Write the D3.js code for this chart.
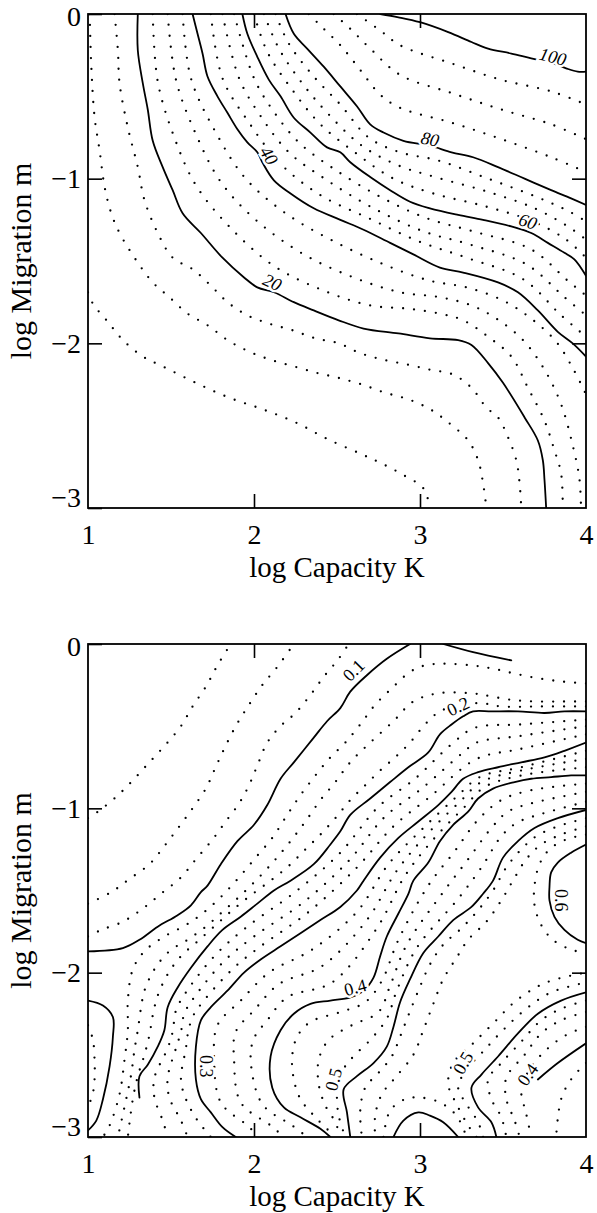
<!DOCTYPE html>
<html>
<head>
<meta charset="utf-8">
<script src="https://cdn.jsdelivr.net/npm/d3@7"></script>
<style>
  body { margin: 0; background: #fff; }
  svg { display: block; }
</style>
</head>
<body>
<svg id="chart" width="597" height="1213"></svg>
<script>
// Axis ticks shared by both panels (log10 scales)
const capacityTicks = [1, 2, 3, 4];
const migrationTicks = [0, -1, -2, -3];

// Upper panel: contour lines, each a list of [log K, log m] vertices
const topContours = [
  {level: 5, pts: [[1.00,-1.69],[1.03,-1.76],[1.12,-1.87],[1.21,-1.98],[1.33,-2.08],[1.45,-2.14],[1.65,-2.24],[1.85,-2.33],[2.05,-2.40],[2.25,-2.48],[2.44,-2.58],[2.64,-2.67],[2.77,-2.73],[2.90,-2.80],[3.02,-2.88],[3.06,-3.00]]},
  {level: 10, pts: [[1.01,0],[1.02,-0.32],[1.04,-0.63],[1.07,-0.83],[1.10,-1.05],[1.14,-1.21],[1.19,-1.33],[1.30,-1.51],[1.39,-1.63],[1.49,-1.72],[1.60,-1.82],[1.72,-1.89],[1.84,-1.98],[1.97,-2.05],[2.10,-2.10],[2.24,-2.14],[2.38,-2.18],[2.51,-2.21],[2.65,-2.25],[2.79,-2.30],[2.93,-2.34],[3.06,-2.40],[3.17,-2.48],[3.29,-2.59],[3.35,-2.71],[3.38,-2.85],[3.40,-3.00]]},
  {level: 15, pts: [[1.16,0],[1.18,-0.22],[1.19,-0.42],[1.24,-0.69],[1.30,-0.93],[1.34,-1.13],[1.42,-1.33],[1.51,-1.48],[1.63,-1.55],[1.74,-1.65],[1.84,-1.75],[1.96,-1.83],[2.09,-1.88],[2.23,-1.92],[2.37,-1.97],[2.51,-2.00],[2.64,-2.06],[2.78,-2.10],[2.93,-2.13],[3.06,-2.16],[3.20,-2.19],[3.31,-2.27],[3.40,-2.39],[3.47,-2.45],[3.53,-2.57],[3.58,-2.71],[3.60,-2.85],[3.61,-3.00]]},
  {level: 20, pts: [[1.30,0],[1.30,-0.22],[1.33,-0.42],[1.36,-0.58],[1.39,-0.77],[1.45,-0.93],[1.51,-1.07],[1.57,-1.21],[1.68,-1.33],[1.81,-1.48],[1.94,-1.60],[2.02,-1.66],[2.12,-1.69],[2.24,-1.75],[2.36,-1.80],[2.51,-1.86],[2.66,-1.91],[2.87,-1.94],[3.06,-1.97],[3.23,-1.98],[3.31,-2.01],[3.41,-2.12],[3.50,-2.24],[3.63,-2.45],[3.71,-2.59],[3.74,-2.71],[3.75,-2.83],[3.76,-3.00]]},
  {level: 25, pts: [[1.39,0],[1.42,-0.41],[1.52,-0.75],[1.65,-1.04],[1.85,-1.29],[2.12,-1.53],[2.42,-1.68],[2.70,-1.77],[2.93,-1.79],[3.12,-1.82],[3.26,-1.86],[3.41,-1.96],[3.55,-2.08],[3.65,-2.27],[3.75,-2.47],[3.81,-2.65],[3.85,-2.79],[3.86,-3.00]]},
  {level: 30, pts: [[1.48,0],[1.53,-0.40],[1.65,-0.73],[1.80,-1.02],[2.01,-1.25],[2.30,-1.46],[2.60,-1.60],[2.88,-1.69],[3.12,-1.72],[3.31,-1.77],[3.46,-1.85],[3.62,-1.98],[3.75,-2.16],[3.85,-2.37],[3.92,-2.62],[3.96,-2.82],[3.97,-3.00]]},
  {level: 35, pts: [[1.57,0],[1.62,-0.39],[1.77,-0.72],[1.95,-1.00],[2.19,-1.21],[2.48,-1.38],[2.78,-1.52],[3.06,-1.62],[3.28,-1.66],[3.50,-1.74],[3.67,-1.85],[3.82,-1.99],[3.92,-2.15],[4.00,-2.31]]},
  {level: 40, pts: [[1.63,0],[1.66,-0.12],[1.69,-0.24],[1.72,-0.38],[1.78,-0.50],[1.84,-0.60],[1.90,-0.70],[1.96,-0.78],[2.02,-0.84],[2.05,-0.90],[2.12,-1.01],[2.22,-1.09],[2.36,-1.18],[2.52,-1.25],[2.66,-1.31],[2.82,-1.39],[2.96,-1.46],[3.12,-1.54],[3.26,-1.57],[3.47,-1.63],[3.59,-1.69],[3.71,-1.80],[3.83,-1.93],[3.92,-2.00],[4.00,-2.08]]},
  {level: 45, pts: [[1.74,0],[1.81,-0.39],[1.97,-0.66],[2.16,-0.91],[2.40,-1.10],[2.69,-1.24],[2.99,-1.38],[3.28,-1.48],[3.62,-1.61],[3.85,-1.83],[4.00,-1.96]]},
  {level: 50, pts: [[1.81,0],[1.91,-0.39],[2.04,-0.62],[2.21,-0.84],[2.44,-1.01],[2.72,-1.18],[3.02,-1.32],[3.30,-1.40],[3.64,-1.52],[3.87,-1.72],[4.00,-1.83]]},
  {level: 55, pts: [[1.88,0],[2.00,-0.39],[2.11,-0.58],[2.27,-0.78],[2.48,-0.94],[2.76,-1.11],[3.04,-1.24],[3.32,-1.32],[3.67,-1.43],[3.89,-1.62],[4.00,-1.71]]},
  {level: 60, pts: [[1.93,0],[1.96,-0.12],[2.02,-0.26],[2.09,-0.40],[2.16,-0.50],[2.24,-0.63],[2.34,-0.72],[2.44,-0.81],[2.52,-0.84],[2.58,-0.90],[2.70,-0.99],[2.82,-1.07],[2.94,-1.14],[3.06,-1.18],[3.23,-1.22],[3.38,-1.25],[3.55,-1.29],[3.67,-1.33],[3.77,-1.39],[3.87,-1.45],[3.93,-1.49],[4.00,-1.59]]},
  {level: 65, pts: [[2.00,0],[2.08,-0.23],[2.23,-0.46],[2.40,-0.67],[2.62,-0.85],[2.84,-1.00],[3.08,-1.09],[3.40,-1.17],[3.68,-1.26],[3.88,-1.37],[4.00,-1.48]]},
  {level: 70, pts: [[2.06,0],[2.15,-0.21],[2.29,-0.42],[2.45,-0.61],[2.65,-0.80],[2.87,-0.92],[3.09,-0.99],[3.41,-1.08],[3.69,-1.18],[3.89,-1.29],[4.00,-1.37]]},
  {level: 75, pts: [[2.13,0],[2.21,-0.18],[2.36,-0.38],[2.52,-0.55],[2.69,-0.75],[2.88,-0.84],[3.11,-0.89],[3.41,-1.00],[3.70,-1.11],[3.90,-1.20],[4.00,-1.26]]},
  {level: 80, pts: [[2.19,0],[2.24,-0.12],[2.32,-0.21],[2.42,-0.32],[2.52,-0.44],[2.62,-0.56],[2.70,-0.67],[2.78,-0.72],[2.90,-0.77],[3.06,-0.80],[3.19,-0.84],[3.32,-0.87],[3.47,-0.93],[3.63,-1.00],[3.79,-1.07],[3.91,-1.12],[4.00,-1.16]]},
  {level: 85, pts: [[2.33,0],[2.41,-0.08],[2.52,-0.19],[2.64,-0.34],[2.76,-0.49],[2.88,-0.57],[3.19,-0.66],[3.49,-0.76],[3.79,-0.87],[4.00,-0.96]]},
  {level: 90, pts: [[2.48,0],[2.58,-0.09],[2.70,-0.21],[2.88,-0.37],[3.19,-0.48],[3.49,-0.58],[3.79,-0.67],[4.00,-0.76]]},
  {level: 95, pts: [[2.62,0],[2.76,-0.10],[2.88,-0.19],[3.19,-0.30],[3.49,-0.40],[3.79,-0.47],[4.00,-0.55]]},
  {level: 100, pts: [[2.76,0],[2.87,-0.02],[3.00,-0.05],[3.17,-0.11],[3.31,-0.17],[3.41,-0.21],[3.55,-0.24],[3.67,-0.27],[3.80,-0.30],[3.88,-0.33],[3.95,-0.35],[4.00,-0.35]]}
];
const topLabels = [
  {text: "20", k: 2.11, m: -1.63},
  {text: "40", k: 2.09, m: -0.86},
  {text: "60", k: 3.65, m: -1.26},
  {text: "80", k: 3.06, m: -0.76},
  {text: "100", k: 3.80, m: -0.26}
];

// Lower panel: contour lines, each a list of [log K, log m] vertices
const bottomContours = [
  {level: 0.025, pts: [[1.00,-1.06],[1.06,-1.02],[1.17,-0.93],[1.27,-0.83],[1.37,-0.72],[1.47,-0.61],[1.56,-0.50],[1.63,-0.38],[1.71,-0.26],[1.78,-0.13],[1.86,0]]},
  {level: 0.05, pts: [[1.00,-1.58],[1.14,-1.51],[1.25,-1.43],[1.37,-1.34],[1.46,-1.23],[1.55,-1.11],[1.63,-1.00],[1.71,-0.88],[1.76,-0.77],[1.81,-0.66],[1.89,-0.50],[1.97,-0.37],[2.05,-0.25],[2.14,-0.14],[2.24,0]]},
  {level: 0.075, pts: [[1.00,-1.78],[1.08,-1.74],[1.21,-1.69],[1.33,-1.61],[1.44,-1.52],[1.56,-1.42],[1.65,-1.31],[1.75,-1.19],[1.83,-1.08],[1.91,-0.97],[1.97,-0.86],[2.02,-0.74],[2.08,-0.60],[2.16,-0.50],[2.25,-0.42],[2.34,-0.31],[2.42,-0.20],[2.51,-0.09],[2.57,0]]},
  {level: 0.075, pts: [[1.00,-2.32],[1.03,-2.41],[1.04,-2.55],[1.04,-2.64],[1.03,-2.73],[1.00,-2.82]]},
  {level: 0.1, pts: [[1.00,-1.87],[1.21,-1.85],[1.31,-1.80],[1.42,-1.72],[1.54,-1.65],[1.62,-1.59],[1.68,-1.51],[1.72,-1.47],[1.80,-1.34],[1.90,-1.20],[2.00,-1.10],[2.08,-0.98],[2.16,-0.82],[2.24,-0.72],[2.36,-0.57],[2.44,-0.47],[2.52,-0.39],[2.58,-0.29],[2.68,-0.19],[2.80,-0.09],[2.94,0]]},
  {level: 0.1, pts: [[3.14,0],[3.32,-0.05],[3.55,-0.10]]},
  {level: 0.1, pts: [[1.00,-2.17],[1.09,-2.20],[1.15,-2.27],[1.15,-2.39],[1.13,-2.57],[1.09,-2.77],[1.05,-2.90],[1.00,-2.96]]},
  {level: 0.125, pts: [[4.00,-0.24],[3.87,-0.23],[3.72,-0.21],[3.57,-0.18],[3.44,-0.15],[3.31,-0.13],[3.14,-0.12],[3.03,-0.13],[2.94,-0.17],[2.83,-0.27],[2.73,-0.37],[2.64,-0.49],[2.55,-0.60],[2.46,-0.69],[2.37,-0.80],[2.28,-0.92],[2.20,-1.04],[2.11,-1.18],[2.01,-1.30],[1.91,-1.42],[1.80,-1.54],[1.69,-1.64],[1.59,-1.71],[1.46,-1.78],[1.34,-1.87],[1.27,-1.98],[1.24,-2.17],[1.24,-2.35],[1.22,-2.53],[1.19,-2.74],[1.13,-2.93],[1.09,-3.00]]},
  {level: 0.15, pts: [[4.00,-0.35],[3.87,-0.35],[3.71,-0.35],[3.55,-0.34],[3.38,-0.31],[3.31,-0.30],[3.11,-0.30],[2.96,-0.35],[2.84,-0.47],[2.70,-0.60],[2.58,-0.72],[2.49,-0.84],[2.40,-0.95],[2.31,-1.08],[2.22,-1.20],[2.13,-1.31],[2.03,-1.42],[1.92,-1.53],[1.81,-1.63],[1.71,-1.72],[1.60,-1.80],[1.49,-1.87],[1.40,-1.98],[1.34,-2.11],[1.32,-2.21],[1.30,-2.35],[1.28,-2.47],[1.26,-2.62],[1.23,-2.77],[1.18,-3.00]]},
  {level: 0.175, pts: [[4.00,-0.38],[3.73,-0.38],[3.49,-0.38],[3.37,-0.36],[3.25,-0.37],[3.12,-0.41],[3.03,-0.49],[2.94,-0.60],[2.85,-0.69],[2.76,-0.77],[2.67,-0.86],[2.58,-0.95],[2.49,-1.06],[2.40,-1.16],[2.31,-1.25],[2.21,-1.35],[2.10,-1.44],[1.98,-1.53],[1.87,-1.62],[1.77,-1.71],[1.66,-1.81],[1.56,-1.90],[1.48,-2.01],[1.42,-2.14],[1.39,-2.26],[1.37,-2.38],[1.34,-2.50],[1.30,-2.63],[1.27,-2.77],[1.24,-3.00]]},
  {level: 0.2, pts: [[1.31,-2.76],[1.31,-2.63],[1.36,-2.56],[1.42,-2.45],[1.46,-2.35],[1.48,-2.21],[1.54,-2.09],[1.62,-1.97],[1.72,-1.84],[1.81,-1.74],[1.92,-1.66],[2.02,-1.58],[2.12,-1.50],[2.22,-1.44],[2.36,-1.34],[2.46,-1.22],[2.52,-1.14],[2.58,-1.04],[2.70,-0.94],[2.82,-0.84],[2.93,-0.75],[3.05,-0.66],[3.12,-0.55],[3.19,-0.49],[3.26,-0.44],[3.32,-0.41],[3.43,-0.41],[3.59,-0.41],[3.75,-0.42],[3.87,-0.41],[4.00,-0.41]]},
  {level: 0.225, pts: [[4.00,-0.46],[3.60,-0.49],[3.33,-0.51],[3.19,-0.61],[2.97,-0.82],[2.75,-0.99],[2.52,-1.27],[2.26,-1.50],[1.96,-1.72],[1.77,-1.89],[1.59,-2.12],[1.53,-2.23],[1.51,-2.36],[1.48,-2.46],[1.40,-2.64],[1.40,-2.76],[1.45,-2.90],[1.48,-3.00]]},
  {level: 0.25, pts: [[4.00,-0.50],[3.60,-0.56],[3.34,-0.60],[3.26,-0.66],[3.01,-0.88],[2.79,-1.05],[2.57,-1.32],[2.30,-1.57],[2.00,-1.78],[1.82,-1.93],[1.64,-2.15],[1.58,-2.25],[1.56,-2.36],[1.53,-2.46],[1.48,-2.64],[1.49,-2.76],[1.56,-2.90],[1.60,-3.00]]},
  {level: 0.275, pts: [[4.00,-0.55],[3.60,-0.64],[3.34,-0.70],[3.06,-0.93],[2.84,-1.11],[2.62,-1.36],[2.33,-1.63],[2.04,-1.84],[1.88,-1.97],[1.69,-2.18],[1.63,-2.27],[1.60,-2.38],[1.59,-2.46],[1.56,-2.65],[1.59,-2.77],[1.66,-2.90],[1.74,-3.00]]},
  {level: 0.3, pts: [[1.89,-3.00],[1.81,-2.94],[1.74,-2.85],[1.68,-2.77],[1.65,-2.65],[1.65,-2.45],[1.68,-2.29],[1.74,-2.21],[1.84,-2.11],[1.94,-2.00],[2.04,-1.92],[2.16,-1.84],[2.28,-1.76],[2.40,-1.68],[2.52,-1.60],[2.62,-1.50],[2.66,-1.44],[2.76,-1.30],[2.87,-1.18],[2.99,-1.08],[3.11,-0.98],[3.19,-0.90],[3.26,-0.82],[3.35,-0.78],[3.47,-0.75],[3.61,-0.72],[3.75,-0.69],[3.87,-0.65],[4.00,-0.60]]},
  {level: 0.325, pts: [[4.00,-0.65],[3.61,-0.75],[3.36,-0.81],[3.22,-0.93],[3.02,-1.12],[2.81,-1.34],[2.62,-1.63],[2.35,-1.86],[2.09,-2.00],[1.92,-2.17],[1.78,-2.32],[1.76,-2.53],[1.80,-2.79],[1.96,-2.93],[2.03,-3.00]]},
  {level: 0.35, pts: [[4.00,-0.70],[3.61,-0.77],[3.37,-0.84],[3.24,-0.96],[3.05,-1.15],[2.86,-1.38],[2.68,-1.68],[2.41,-1.96],[2.15,-2.07],[2.00,-2.23],[1.89,-2.36],[1.88,-2.53],[1.92,-2.79],[2.10,-2.93],[2.18,-3.00]]},
  {level: 0.375, pts: [[4.00,-0.75],[3.61,-0.80],[3.39,-0.87],[3.27,-0.99],[3.08,-1.19],[2.91,-1.41],[2.74,-1.73],[2.47,-2.06],[2.20,-2.15],[2.08,-2.29],[2.00,-2.40],[1.98,-2.53],[2.05,-2.80],[2.23,-2.93],[2.32,-3.00]]},
  {level: 0.375, pts: [[4.00,-2.55],[3.91,-2.65],[3.85,-2.77],[3.82,-3.00]]},
  {level: 0.4, pts: [[4.00,-0.80],[3.91,-0.80],[3.79,-0.81],[3.67,-0.82],[3.57,-0.84],[3.44,-0.88],[3.35,-0.94],[3.29,-1.02],[3.20,-1.10],[3.12,-1.20],[3.05,-1.33],[2.96,-1.44],[2.93,-1.52],[2.87,-1.64],[2.80,-1.78],[2.76,-1.90],[2.72,-2.03],[2.66,-2.11],[2.58,-2.15],[2.46,-2.17],[2.34,-2.19],[2.24,-2.25],[2.16,-2.35],[2.10,-2.51],[2.11,-2.70],[2.18,-2.82],[2.28,-2.88],[2.40,-2.95],[2.46,-3.00]]},
  {level: 0.4, pts: [[3.71,-2.65],[3.83,-2.55],[4.00,-2.43]]},
  {level: 0.425, pts: [[4.00,-0.85],[3.67,-0.89],[3.49,-0.95],[3.35,-1.07],[3.21,-1.26],[3.05,-1.47],[2.87,-1.80],[2.77,-2.05],[2.67,-2.18],[2.52,-2.24],[2.34,-2.30],[2.26,-2.39],[2.23,-2.51],[2.24,-2.65],[2.28,-2.77],[2.37,-2.88],[2.49,-3.00]]},
  {level: 0.45, pts: [[4.00,-0.90],[3.67,-0.97],[3.53,-1.02],[3.43,-1.12],[3.29,-1.31],[3.14,-1.51],[2.92,-1.83],[2.82,-2.08],[2.75,-2.24],[2.59,-2.32],[2.45,-2.41],[2.39,-2.53],[2.39,-2.68],[2.43,-2.81],[2.49,-2.91],[2.52,-3.00]]},
  {level: 0.475, pts: [[4.00,-0.96],[3.68,-1.05],[3.58,-1.09],[3.49,-1.17],[3.37,-1.36],[3.23,-1.55],[2.98,-1.85],[2.86,-2.11],[2.80,-2.28],[2.70,-2.41],[2.59,-2.52],[2.52,-2.62],[2.50,-2.74],[2.51,-2.87],[2.55,-3.00]]},
  {level: 0.425, pts: [[4.00,-2.33],[3.88,-2.38],[3.76,-2.47],[3.66,-2.59],[3.61,-2.71],[3.64,-2.86],[3.67,-3.00]]},
  {level: 0.45, pts: [[4.00,-2.24],[3.85,-2.29],[3.73,-2.37],[3.63,-2.50],[3.52,-2.64],[3.52,-2.77],[3.57,-2.90],[3.60,-3.00]]},
  {level: 0.475, pts: [[4.00,-2.17],[3.85,-2.22],[3.73,-2.29],[3.61,-2.42],[3.49,-2.55],[3.41,-2.65],[3.43,-2.77],[3.49,-2.88],[3.52,-3.00]]},
  {level: 0.5, pts: [[2.58,-3.00],[2.56,-2.85],[2.54,-2.71],[2.62,-2.63],[2.72,-2.55],[2.80,-2.45],[2.84,-2.33],[2.88,-2.18],[2.94,-2.04],[3.02,-1.88],[3.11,-1.78],[3.20,-1.68],[3.31,-1.60],[3.38,-1.52],[3.44,-1.44],[3.50,-1.30],[3.59,-1.20],[3.69,-1.12],[3.83,-1.06],[4.00,-1.01]]},
  {level: 0.5, pts: [[3.46,-3.00],[3.43,-2.91],[3.35,-2.82],[3.31,-2.70],[3.37,-2.62],[3.47,-2.51],[3.59,-2.37],[3.71,-2.25],[3.85,-2.17],[4.00,-2.12]]},
  {level: 0.525, pts: [[4.00,-1.06],[3.83,-1.11],[3.70,-1.17],[3.61,-1.25],[3.52,-1.36],[3.44,-1.50],[3.35,-1.62],[3.25,-1.73],[3.14,-1.83],[3.06,-1.95],[2.99,-2.11],[2.93,-2.26],[2.88,-2.39],[2.83,-2.51],[2.75,-2.61],[2.67,-2.70],[2.64,-2.84],[2.65,-3.00]]},
  {level: 0.55, pts: [[4.00,-1.11],[3.85,-1.16],[3.73,-1.22],[3.64,-1.31],[3.56,-1.44],[3.49,-1.56],[3.40,-1.69],[3.29,-1.80],[3.22,-1.91],[3.14,-2.04],[3.08,-2.19],[3.02,-2.35],[2.96,-2.50],[2.85,-2.64],[2.77,-2.74],[2.73,-2.87],[2.73,-3.00]]},
  {level: 0.575, pts: [[4.00,-1.16],[3.88,-1.19],[3.78,-1.25],[3.72,-1.34],[3.69,-1.47],[3.69,-1.59],[3.73,-1.71],[3.80,-1.80],[3.91,-1.86],[4.00,-1.88]]},
  {level: 0.575, pts: [[2.78,-3.00],[2.82,-2.84],[2.91,-2.77],[3.00,-2.76],[3.12,-2.79],[3.22,-2.87],[3.28,-3.00]]},
  {level: 0.525, pts: [[3.38,-3.00],[3.35,-2.91],[3.28,-2.80],[3.23,-2.70],[3.28,-2.59],[3.38,-2.48],[3.50,-2.35],[3.64,-2.22],[3.79,-2.12],[4.00,-2.06]]},
  {level: 0.55, pts: [[3.34,-3.00],[3.29,-2.93],[3.22,-2.80],[3.17,-2.68],[3.20,-2.55],[3.31,-2.44],[3.44,-2.31],[3.58,-2.17],[3.76,-2.06],[4.00,-2.00]]},
  {level: 0.6, pts: [[4.00,-1.22],[3.91,-1.27],[3.83,-1.33],[3.79,-1.39],[3.78,-1.48],[3.78,-1.56],[3.81,-1.66],[3.87,-1.74],[3.95,-1.80],[4.00,-1.82]]},
  {level: 0.6, pts: [[2.84,-3.00],[2.90,-2.90],[2.99,-2.85],[3.06,-2.87],[3.14,-2.91],[3.23,-3.00]]}
];
const bottomLabels = [
  {text: "0.1", k: 2.60, m: -0.16},
  {text: "0.2", k: 3.23, m: -0.38},
  {text: "0.3", k: 1.71, m: -2.57},
  {text: "0.4", k: 2.61, m: -2.09},
  {text: "0.5", k: 2.48, m: -2.65},
  {text: "0.5", k: 3.26, m: -2.55},
  {text: "0.4", k: 3.65, m: -2.62},
  {text: "0.6", k: 3.85, m: -1.56}
];

const svg = d3.select("#chart");
const serif = "'Liberation Serif', 'Times New Roman', serif";

const panels = [
  {
    top: 14, bottom: 508, contours: topContours, labels: topLabels,
    tilt: [25, 58, 18, 12, 14], italic: true,
    isMajor: lv => lv % 20 === 0
  },
  {
    top: 644, bottom: 1137, contours: bottomContours, labels: bottomLabels,
    tilt: [-45, -25, 90, -15, -75, -60, -55, 90], italic: false,
    isMajor: lv => Math.abs(lv * 10 - Math.round(lv * 10)) < 1e-9
  }
];

const left = 88, right = 586;

panels.forEach((p, i) => {
  const x = d3.scaleLinear().domain([1, 4]).range([left, right]);
  const y = d3.scaleLinear().domain([0, -3]).range([p.top, p.bottom]);
  const g = svg.append("g");

  const clipId = "plot-clip-" + i;
  svg.append("clipPath").attr("id", clipId)
    .append("rect")
    .attr("x", left).attr("y", p.top)
    .attr("width", right - left).attr("height", p.bottom - p.top);

  const line = d3.line()
    .x(d => x(d[0])).y(d => y(d[1]))
    .curve(d3.curveCatmullRom.alpha(0.5));

  const lines = g.append("g").attr("clip-path", `url(#${clipId})`);
  // dotted minor levels first, solid major levels on top
  const ordered = p.contours.slice().sort((a, b) => p.isMajor(a.level) - p.isMajor(b.level));
  lines.selectAll("path")
    .data(ordered)
    .join("path")
    .attr("d", d => line(d.pts))
    .attr("fill", "none")
    .attr("stroke", "#000")
    .attr("stroke-linecap", "round")
    .attr("stroke-linejoin", "round")
    .attr("stroke-width", d => p.isMajor(d.level) ? 1.8 : 2.3)
    .attr("stroke-dasharray", d => p.isMajor(d.level) ? null : "0 11");

  // contour value labels, haloed so the line breaks around them
  g.append("g").attr("clip-path", `url(#${clipId})`)
    .selectAll("text")
    .data(p.labels)
    .join("text")
    .attr("transform", (d, j) => `translate(${x(d.k)},${y(d.m)}) rotate(${p.tilt[j]})`)
    .attr("text-anchor", "middle")
    .attr("dominant-baseline", "central")
    .attr("font-family", serif)
    .attr("font-size", 18)
    .attr("font-style", p.italic ? "italic" : "normal")
    .attr("fill", "#000")
    .attr("stroke", "#fff")
    .attr("stroke-width", 5)
    .attr("paint-order", "stroke")
    .text(d => d.text);

  // axes: inward ticks on all four sides, labels left and bottom
  const axisStyle = sel => {
    sel.select(".domain").remove();
    sel.selectAll(".tick line").attr("stroke", "#000").attr("stroke-width", 1.6);
    sel.selectAll("text").attr("font-family", serif).attr("font-size", 28).attr("fill", "#000");
  };
  g.append("g").attr("transform", `translate(${left},0)`)
    .call(d3.axisLeft(y).tickValues(migrationTicks).tickSize(-14).tickPadding(7).tickFormat(d3.format("d")))
    .call(axisStyle)
    .call(s => s.selectAll(".tick text").attr("dy", d => d === -3 ? "-0.05em" : d === 0 ? "0.42em" : "0.32em"));
  g.append("g").attr("transform", `translate(${right},0)`)
    .call(d3.axisRight(y).tickValues([-1, -2]).tickSize(-14).tickFormat(""))
    .call(axisStyle);
  g.append("g").attr("transform", `translate(0,${p.bottom})`)
    .call(d3.axisBottom(x).tickValues(capacityTicks).tickSize(-14).tickPadding(16).tickFormat(d3.format("d")))
    .call(axisStyle)
    .call(s => s.selectAll(".tick line").filter(d => d === 1 || d === 4).remove());
  g.append("g").attr("transform", `translate(0,${p.top})`)
    .call(d3.axisTop(x).tickValues([2, 3]).tickSize(-14).tickFormat(""))
    .call(axisStyle);

  g.append("rect")
    .attr("x", left).attr("y", p.top)
    .attr("width", right - left).attr("height", p.bottom - p.top)
    .attr("fill", "none").attr("stroke", "#000").attr("stroke-width", 1.8);

  // axis titles
  g.append("text")
    .attr("x", (left + right) / 2).attr("y", p.bottom + 69)
    .attr("text-anchor", "middle")
    .attr("font-family", serif).attr("font-size", 29)
    .text("log Capacity K");
  g.append("text")
    .attr("transform", `translate(31,${(p.top + p.bottom) / 2}) rotate(-90)`)
    .attr("text-anchor", "middle")
    .attr("font-family", serif).attr("font-size", 30)
    .text("log Migration m");
});
</script>
</body>
</html>
